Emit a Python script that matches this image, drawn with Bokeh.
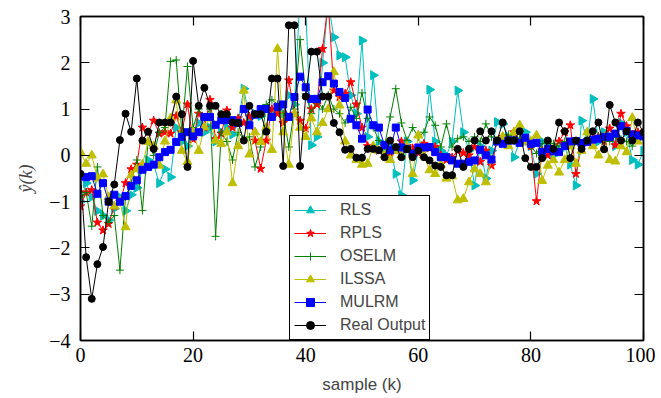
import numpy as np
from bokeh.plotting import figure
from bokeh.models import Range1d, LinearAxis, FixedTicker, Legend, LegendItem
from bokeh.embed import file_html
from bokeh.resources import INLINE

sample = list(range(0, 101))

rls = [-1.0, -0.6, -0.9, -1.2, -1.3, -1.4, -1.15, -0.9, -1.2, -0.85,
       -0.7, -0.3, -0.1, -0.2, -0.6, -0.3, -0.47, 0.6, 0.3, 0.2,
       0.45, 0.7, 0.5, 0.6, 0.3, 0.5, 0.6, 0.45, 0.7, 1.44,
       0.8, 0.9, 0.85, 1.0, 0.95, 1.0, 0.9, 1.3, 1.1, 3.5,
       3.2, 0.22, 0.4, 2.0, 3.3, 2.55, 2.16, 2.12, 1.3, 0.9,
       2.48, 0.4, 1.73, 0.3, 0.1, 0.2, -0.4, -0.86, 0.3, -0.54,
       0.1, 0.2, 1.42, 0.3, 0.1, 0.0, 0.3, 1.4, 0.5, 0.1,
       -0.65, 0.2, -0.5, 0.1, 0.72, 0.68, 0.4, -0.04, 0.3, 0.5,
       0.2, -0.4, 0.3, 0.2, 0.0, 0.1, 0.2, -0.2, -0.65, 0.75,
       0.3, 1.22, 0.3, 0.5, 0.4, 0.2, 0.7, 0.5, -0.1, -0.2,
       0.1]

rpls = [-1.1, -0.8, -0.75, -1.45, -1.62, -1.48, -1.1, -1.0, -0.6, -0.3,
        -0.2, 0.6, 0.5, 0.75, 0.47, 0.5, 0.47, 0.85, 0.5, 1.1,
        0.35, 0.9, 0.6, 1.2, 0.35, 0.47, 0.97, 0.6, 0.8, 0.7,
        0.84, 0.32, -0.29, 0.32, 1.0, 0.9, 0.7, 1.62, 0.9, 0.75,
        0.58, 1.0, 1.1, 2.3, 3.3, 1.4, 1.26, 1.33, 1.58, 1.1,
        0.6, 0.2, 0.15, 0.1, 0.2, 0.05, 0.1, 0.3, 0.2, 0.15,
        0.05, 0.25, 0.15, 0.18, 0.0, -0.1, -0.05, 0.1, 0.05, 0.0,
        0.18, -0.14, 0.1, -0.22, 0.3, 0.4, 0.35, 0.5, 0.3, 0.3,
        0.2, -0.99, 0.1, 0.0, 0.1, 0.3, 0.5, 0.65, -0.4, 0.2,
        0.3, 0.35, 0.4, 0.3, 0.58, 0.22, 0.9, 0.63, 0.45, 0.5,
        0.45]

oselm = [-0.9, -0.8, -1.53, -0.25, -1.3, -1.45, -1.3, -2.48, -0.9, -0.6,
         -0.1, -1.19, 0.3, 0.0, 0.5, 0.6, 2.03, 2.06, 0.5, 1.92,
         0.6, 1.0, 0.8, 1.0, -1.75, 0.5, 0.3, -0.1, 0.5, 0.35,
         0.4, -0.25, 0.18, 1.1, 1.2, 1.1, 0.9, 0.18, 1.0, 2.5,
         1.33, 0.9, 1.2, 1.0, 1.3, 1.0, 0.9, 0.7, 1.04, 0.8,
         1.35, 0.8, 0.6, 0.32, 0.2, 0.83, 1.44, 0.7, 0.32, 0.6,
         0.4, 0.5, 0.83, 0.65, 0.18, 0.68, 0.18, 0.36, 0.4, 0.3,
         0.4, 0.3, 0.68, 0.4, 0.3, 0.4, 0.45, 0.4, 0.35, 0.3,
         0.2, 0.04, 0.25, 0.3, 0.25, 0.2, 0.3, 0.25, 0.3, 0.2,
         0.35, 0.3, 0.4, 0.35, 0.3, 0.4, 0.35, 0.3, 0.2, 0.35,
         0.4]

ilssa = [0.07, -0.18, 0.0, -0.5, -0.41, -0.9, -1.1, -1.0, -1.55, -0.43,
         -0.3, -0.2, 0.29, 0.2, -0.22, 0.3, 0.8, 1.19, 0.1, -0.14,
         0.5, 0.1, 0.61, 0.8, 0.32, 0.25, 0.5, -0.6, 0.2, 1.4,
         0.02, 0.5, 0.29, 0.6, 0.12, 2.3, 0.5, -0.2, 0.9, 0.6,
         0.4, 0.8, 0.5, 0.7, 1.0, 1.8, 1.08, 0.3, 0.0, -0.1,
         -0.2, -0.18, 0.2, 0.1, 0.0, -0.1, 0.1, 0.0, 0.2, -0.4,
         0.43, 0.0, -0.32, -0.4, -0.2, -0.5, -0.45, -0.97, -0.94, -0.58,
         -0.3, -0.4, -0.58, -0.1, 0.3, 0.4, 0.2, 0.5, 0.65, 0.3,
         0.3, 0.43, -0.55, -0.22, -0.1, -0.37, -0.1, 0.2, -0.18, 0.1,
         0.5, 0.2, 0.0, 0.4, -0.1, -0.13, 0.2, 0.07, 0.81, 0.3,
         0.5]

mulrm = [-0.45, -0.47, -0.45, -0.83, -0.6, -1.0, -0.85, -1.0, -0.88, -0.66,
         -0.54, -0.31, -0.25, -0.2, -0.04, 0.07, 0.12, 0.29, 0.4, 0.5,
         0.41, 0.5, 0.83, 0.83, 0.66, 0.76, 0.76, 0.76, 0.7, 1.0,
         0.65, 0.88, 1.0, 1.0, 0.83, 1.05, 1.1, 0.83, 1.26, 1.7,
         1.47, 1.22, 1.22, 1.58, 1.71, 1.55, 1.37, 1.24, 0.79, 0.65,
         0.36, 0.99, 0.65, 0.6, 0.22, 0.11, 0.6, 0.17, 0.14, 0.04,
         0.17, 0.17, 0.18, 0.07, -0.04, -0.04, -0.11, -0.18, -0.18, -0.14,
         -0.11, 0.12, 0.0, -0.09, 0.3, 0.25, 0.32, 0.32, 0.27, 0.38,
         0.25, 0.27, 0.07, 0.14, 0.09, 0.07, 0.2, 0.3, 0.31, 0.27,
         0.29, 0.34, 0.36, 0.4, 0.4, 0.47, 0.63, 0.53, 0.45, 0.43,
         0.41]

real_output = [-0.4, -2.2, -3.1, -2.35, -1.98, -1.0, -0.63, 0.33, 0.9, 0.51,
               1.66, 0.32, 0.51, 0.14, 0.71, 0.71, 0.71, 1.27, 0.89, -0.25,
               2.04, 1.07, 1.46, 1.07, 1.07, 0.89, 0.89, 0.71, 0.7, 0.32,
               1.07, 0.89, 0.89, 0.51, 1.66, 1.66, -0.23, 2.81, 2.81, -0.23,
               1.27, 2.24, 2.24, 1.27, 1.27, 0.7, 0.5, 0.12, 0.14, -0.05,
               -0.05, 0.14, 0.14, 0.11, -0.04, 0.32, 0.18, -0.04, 0.14, -0.04,
               0.1, -0.04, -0.11, -0.22, -0.25, -0.43, -0.43, 0.14, -0.25, 0.14,
               0.32, 0.52, 0.32, 0.52, 0.32, 0.71, 0.32, 0.32, 0.52, -0.06,
               -0.25, -0.25, -0.06, 0.32, 0.14, 0.71, 0.52, -0.06, 0.32, 0.14,
               0.32, 0.52, 0.71, 0.13, 1.09, 0.71, 0.32, 0.52, 0.32, 0.71,
               0.5]

x_ticks = [0, 20, 40, 60, 80, 100]
y_ticks = [-4, -3, -2, -1, 0, 1, 2, 3]
y_tick_labels = {-4: "\u22124", -3: "\u22123", -2: "\u22122", -1: "\u22121",
                 0: "0", 1: "1", 2: "2", 3: "3"}

series = [
    ("RLS", rls, "#00BFBF", "triangle", 9, -np.pi / 2),
    ("RPLS", rpls, "#FF0000", "star", 9, 0.0),
    ("OSELM", oselm, "#008000", "cross", 8, 0.0),
    ("ILSSA", ilssa, "#BFBF00", "triangle", 9, 0.0),
    ("MULRM", mulrm, "#0000FF", "square", 7, 0.0),
    ("Real Output", real_output, "#000000", "circle", 7, 0.0),
]

p = figure(frame_width=563, frame_height=324, output_backend="svg", toolbar_location=None,
           x_range=Range1d(0, 100), y_range=Range1d(-4, 3),
           min_border_left=80, min_border_right=12, min_border_top=16, min_border_bottom=10)
p.grid.visible = False
p.outline_line_color = "black"
p.outline_line_width = 1.5
p.background_fill_color = "white"
p.border_fill_color = "white"

items = []
for name, ys, color, marker, size, ang in series:
    r1 = p.line(sample, ys, line_color=color, line_width=1)
    r2 = p.scatter(sample, ys, marker=marker, size=size, angle=ang,
                   fill_color=color, line_color=color, line_width=1)
    items.append(LegendItem(label=name, renderers=[r1, r2]))

legend = Legend(items=items, location=(209, 0), padding=4, spacing=3,
                glyph_width=32, glyph_height=20, label_height=20, label_standoff=14,
                label_text_font="Liberation Sans", label_text_font_size="16px",
                border_line_color="black", border_line_width=1.5, border_line_alpha=1.0,
                background_fill_color="white", background_fill_alpha=1.0, margin=0)
p.add_layout(legend, "center")

def style_axis(ax, show_labels):
    ax.axis_line_color = "black"
    ax.axis_line_width = 1.5
    ax.major_tick_in = 9
    ax.major_tick_out = 0
    ax.major_tick_line_width = 1.2
    ax.minor_tick_line_color = None
    if not show_labels:
        ax.major_label_text_alpha = 0
        ax.major_label_text_font_size = "2px"
        ax.major_label_standoff = 0
    else:
        ax.major_label_text_font = "Liberation Serif"
        ax.major_label_text_font_size = "20px"
        ax.major_label_text_color = "black"

p.xaxis.ticker = FixedTicker(ticks=x_ticks)
p.yaxis.ticker = FixedTicker(ticks=y_ticks)
p.yaxis.major_label_overrides = y_tick_labels
style_axis(p.xaxis[0], True)
style_axis(p.yaxis[0], True)
p.xaxis.major_label_standoff = 7
p.yaxis.major_label_standoff = 10

p.xaxis.axis_label = "sample (k)"
p.xaxis.axis_label_text_font = "Liberation Sans"
p.xaxis.axis_label_text_font_size = "17px"
p.xaxis.axis_label_text_font_style = "normal"
p.xaxis.axis_label_standoff = 10
p.yaxis.axis_label = "\u0177(k)"
p.yaxis.axis_label_text_font = "Liberation Serif"
p.yaxis.axis_label_text_font_size = "18px"
p.yaxis.axis_label_text_font_style = "italic"
p.yaxis.axis_label_standoff = 10

top = LinearAxis(ticker=FixedTicker(ticks=x_ticks))
right = LinearAxis(ticker=FixedTicker(ticks=y_ticks))
style_axis(top, False)
style_axis(right, False)
p.add_layout(top, "above")
p.add_layout(right, "right")

open("out.html", "w").write(file_html(p, INLINE))
